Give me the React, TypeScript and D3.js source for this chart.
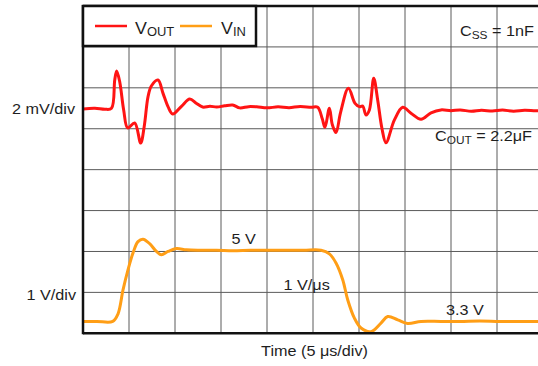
import React from "react";
import * as d3 from "d3";

// Time in µs, VOUT ripple in mV (relative), VIN in V
const xTicks = [0, 5, 10, 15, 20, 25, 30, 35, 40, 45, 50];
const yTicksVin = [3, 4, 5, 6, 7, 8, 9, 10, 11];

const voutT = [0, 1.3, 2.4, 3.1, 3.45, 3.66, 3.99, 4.42, 4.86, 5.62, 6.27, 6.65, 7.07, 7.43, 8.15, 8.7, 9.24, 9.75, 10.73, 11.6, 12.3, 13.01, 13.8, 14.53, 15.4, 16.27, 17.03, 18.0, 18.88, 20.0, 21.2, 22.4, 23.6, 24.8, 25.51, 26.0, 26.3, 26.78, 27.1, 27.5, 28.0, 28.85, 29.57, 30.04, 30.4, 30.76, 31.13, 31.6, 32.03, 32.5, 32.93, 33.85, 34.75, 35.65, 36.74, 37.83, 38.91, 40.0, 41.0, 42.2, 43.3, 44.5, 45.6, 46.8, 48.0, 49.2, 50];
const voutV = [-0.03, 0.0, -0.05, 0.0, 1.38, 1.82, 1.3, -0.08, -0.96, -0.72, -1.7, -0.9, 0.57, 1.09, 1.38, 0.73, 0.08, -0.28, 0.11, 0.45, 0.25, 0.06, 0.1, 0.06, 0.12, 0.16, 0.02, 0.08, 0.07, 0.02, 0.07, 0.03, 0.09, 0.05, 0.05, -0.5, -0.93, 0.0, -0.8, -1.19, -0.2, 0.98, 0.24, 0.08, 0.11, -0.33, -0.08, 1.47, 0.41, -1.0, -1.68, -0.57, 0.05, -0.24, -0.54, -0.22, -0.08, -0.12, -0.08, -0.15, -0.1, -0.13, -0.09, -0.14, -0.1, -0.12, -0.11];

const vinT = [0, 1.5, 3.23, 3.8, 4.35, 4.89, 5.43, 5.98, 6.52, 7.25, 7.98, 8.52, 9.24, 10.15, 11.24, 12.68, 14.5, 16.3, 18.2, 20.1, 22.0, 24.0, 25.87, 26.78, 27.5, 28.23, 28.77, 29.5, 30.22, 31.3, 32.39, 33.12, 34.21, 35.29, 36.74, 38.91, 41.0, 43.12, 45.3, 47.5, 50];
const vinV = [3.29, 3.29, 3.29, 3.47, 4.06, 4.55, 4.96, 5.24, 5.3, 5.19, 5.0, 4.92, 5.0, 5.07, 5.04, 5.03, 5.03, 5.02, 5.03, 5.03, 5.03, 5.03, 5.03, 4.94, 4.72, 4.31, 3.82, 3.37, 3.13, 3.04, 3.25, 3.41, 3.33, 3.24, 3.29, 3.29, 3.29, 3.3, 3.29, 3.29, 3.29];

const X0 = 83, X1 = 543, Y0 = 6, Y1 = 333.3;
const RED = "#ff1414";
const ORANGE = "#ff9e16";
const FONT = "'Liberation Sans', Arial, sans-serif";

function T({ x, y, size = 15, anchor = "start", children }: any) {
  return (
    <text transform={`translate(${x},${y}) scale(1.08,1)`} fontSize={size} textAnchor={anchor} fontFamily={FONT} fill="#1e1e1e">
      {children}
    </text>
  );
}

export default function App() {
  const x = d3.scaleLinear().domain([0, 50]).range([X0, X1]);
  const yVin = d3.scaleLinear().domain([3, 11]).range([Y1, Y0]);
  const yVout = d3.scaleLinear().domain([-11, 5]).range([Y1, Y0]);

  const lineOut = d3.line<number>().x((_, i) => x(voutT[i])).y((v) => yVout(v)).curve(d3.curveCatmullRom.alpha(0.5));
  const lineIn = d3.line<number>().x((_, i) => x(vinT[i])).y((v) => yVin(v)).curve(d3.curveCatmullRom.alpha(0.5));

  return (
    <svg width={538} height={366} style={{ position: "absolute", left: 0, top: 0, background: "#fff" }}>
      <defs>
        <clipPath id="plot">
          <rect x={X0} y={Y0} width={X1 - X0} height={Y1 - Y0} />
        </clipPath>
      </defs>
      <rect width={538} height={366} fill="#fff" />
      {xTicks.slice(1, -1).map((t) => (
        <line key={"vx" + t} x1={x(t)} x2={x(t)} y1={Y0} y2={Y1} stroke="#5a5a5a" strokeWidth={1} />
      ))}
      {yTicksVin.slice(1, -1).map((v) => (
        <line key={"hy" + v} x1={X0} x2={X1} y1={yVin(v)} y2={yVin(v)} stroke="#5a5a5a" strokeWidth={1} />
      ))}
      <g clipPath="url(#plot)">
        <path d={lineOut(voutV) || ""} fill="none" stroke={RED} strokeWidth={3} strokeLinejoin="round" />
        <path d={lineIn(vinV) || ""} fill="none" stroke={ORANGE} strokeWidth={3} strokeLinejoin="round" />
      </g>
      {/* borders */}
      <line x1={X0} x2={X0} y1={Y0 - 1} y2={Y1 + 1} stroke="#111" strokeWidth={2.5} />
      <line x1={X0} x2={X1} y1={Y0} y2={Y0} stroke="#111" strokeWidth={2.5} />
      <line x1={X0} x2={X1} y1={Y1} y2={Y1} stroke="#111" strokeWidth={2.5} />
      {/* legend */}
      <rect x={X0} y={Y0} width={173} height={40} fill="#fff" stroke="#111" strokeWidth={2.5} />
      <line x1={95} x2={127} y1={26} y2={26} stroke={RED} strokeWidth={2.5} />
      <line x1={180} x2={212} y1={26} y2={26} stroke={ORANGE} strokeWidth={2.5} />
      <T x={135} y={34} size={16.5}>
        V<tspan fontSize={12} dy={1.5}>OUT</tspan>
      </T>
      <T x={221} y={34} size={16.5}>
        V<tspan fontSize={12} dy={1.5}>IN</tspan>
      </T>
      {/* annotations */}
      <T x={75} y={114} anchor="end">2 mV/div</T>
      <T x={76} y={299.5} anchor="end">1 V/div</T>
      <T x={460} y={36}>
        C<tspan fontSize={11} dy={3}>SS</tspan><tspan dy={-3}> = 1nF</tspan>
      </T>
      <T x={435} y={140.5}>
        C<tspan fontSize={11} dy={3}>OUT</tspan><tspan dy={-3}> = 2.2μF</tspan>
      </T>
      <T x={231.5} y={244}>5 V</T>
      <T x={283.5} y={290}>1 V/μs</T>
      <T x={446} y={315}>3.3 V</T>
      <T x={314.5} y={356} anchor="middle">Time (5 μs/div)</T>
    </svg>
  );
}
